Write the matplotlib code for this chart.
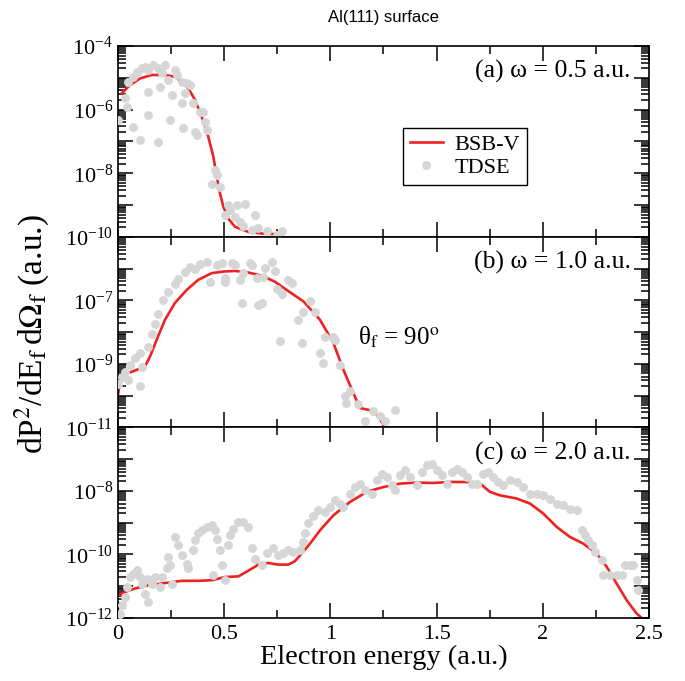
import numpy as np
import matplotlib
matplotlib.use("Agg")
import matplotlib.pyplot as plt
from matplotlib.ticker import LogLocator, FuncFormatter, MultipleLocator, FormatStrFormatter

# ============================================================
# DATOS: espectros de electrones emitidos, superficie Al(111)
# (energia en a.u., probabilidad guardada como exponente log10)
# ============================================================

# ---- (a) omega = 0.5 a.u. ----
e_bsb_a = [0.017, 0.056, 0.104, 0.159, 0.221, 0.268, 0.300, 0.331, 0.363, 0.394,
           0.425, 0.449, 0.465, 0.480, 0.496, 0.519, 0.551, 0.614, 0.676, 0.739]
log_bsb_a = [-5.49, -5.23, -5.02, -4.91, -4.91, -4.97, -5.12, -5.33, -5.70, -6.22,
             -6.85, -7.48, -8.11, -8.63, -9.05, -9.42, -9.68, -9.84, -9.89, -9.91]

e_tdse_a = [0.002, 0.033, 0.041, 0.049, 0.072, 0.072, 0.088, 0.104, 0.111, 0.127,
            0.143, 0.143, 0.143, 0.166, 0.190, 0.190, 0.198, 0.206, 0.221, 0.237,
            0.245, 0.253, 0.268, 0.276, 0.300, 0.300, 0.308, 0.315, 0.323, 0.339,
            0.355, 0.363, 0.370, 0.386, 0.402, 0.410, 0.417, 0.441, 0.457, 0.465,
            0.480, 0.504, 0.519, 0.527, 0.551, 0.559, 0.574, 0.590, 0.598, 0.629,
            0.645, 0.661, 0.700, 0.747, 0.771]
log_tdse_a = [-6.33, -5.65, -5.91, -5.12, -4.96, -6.54, -4.81, -6.96, -4.70, -4.65,
              -4.75, -5.44, -6.17, -4.60, -4.70, -7.01, -5.28, -4.86, -4.60, -5.07,
              -6.33, -5.54, -4.75, -4.91, -5.12, -5.80, -6.59, -5.49, -5.17, -5.23,
              -5.80, -6.69, -6.80, -6.06, -6.06, -6.38, -6.64, -8.32, -7.90, -8.05,
              -8.42, -9.31, -9.00, -9.16, -9.37, -9.00, -9.53, -9.66, -8.95, -9.77,
              -9.31, -9.71, -9.82, -9.94, -9.82]

# ---- (b) omega = 1.0 a.u. ----
e_bsb_b = [0.000, 0.009, 0.025, 0.072, 0.127, 0.151, 0.182, 0.221, 0.268, 0.323,
           0.378, 0.441, 0.496, 0.551, 0.614, 0.676, 0.739, 0.794, 0.873, 0.951,
           1.014, 1.061, 1.108, 1.139, 1.186, 1.218, 1.249, 1.257]
log_bsb_b = [-9.97, -9.60, -9.34, -9.23, -9.08, -8.76, -8.24, -7.61, -7.08, -6.67,
             -6.35, -6.14, -6.09, -6.07, -6.12, -6.22, -6.41, -6.67, -7.03, -7.61,
             -8.34, -9.18, -9.92, -10.39, -10.46, -10.60, -10.91, -11.00]

e_tdse_b = [0.002, 0.017, 0.033, 0.049, 0.057, 0.080, 0.104, 0.104, 0.111, 0.143,
            0.159, 0.174, 0.190, 0.214, 0.237, 0.268, 0.284, 0.315, 0.339, 0.363,
            0.386, 0.418, 0.433, 0.465, 0.488, 0.504, 0.504, 0.535, 0.551, 0.574,
            0.582, 0.590, 0.621, 0.629, 0.653, 0.661, 0.676, 0.684, 0.694, 0.724,
            0.739, 0.747, 0.763, 0.771, 0.802, 0.818, 0.849, 0.865, 0.873, 0.904,
            0.927, 0.951, 0.967, 0.974, 1.014, 1.022, 1.045, 1.069, 1.075, 1.092,
            1.130, 1.163, 1.201, 1.234, 1.257, 1.304]
log_tdse_b = [-9.62, -9.41, -9.26, -9.51, -9.05, -8.83, -8.67, -9.71, -9.10, -8.47,
              -8.05, -7.74, -7.42, -7.00, -6.74, -6.48, -6.32, -6.11, -5.95, -6.01,
              -5.86, -5.80, -6.43, -5.88, -5.83, -6.30, -6.43, -5.83, -5.88, -6.35,
              -7.08, -6.14, -5.83, -5.89, -6.30, -7.14, -7.08, -6.25, -5.98, -5.80,
              -6.07, -6.64, -8.29, -6.79, -6.35, -6.46, -7.61, -8.34, -7.35, -7.03,
              -7.35, -8.66, -8.97, -8.14, -8.14, -8.24, -9.03, -10.02, -10.23, -9.86,
              -10.28, -10.81, -10.49, -10.65, -10.81, -10.44]

# ---- (c) omega = 2.0 a.u. ----
e_bsb_c = [0.002, 0.033, 0.080, 0.143, 0.221, 0.300, 0.378, 0.441, 0.504, 0.567,
           0.614, 0.661, 0.708, 0.755, 0.802, 0.833, 0.857, 0.904, 0.951, 1.014,
           1.092, 1.171, 1.249, 1.328, 1.406, 1.485, 1.563, 1.642, 1.705, 1.751,
           1.798, 1.877, 1.940, 2.002, 2.065, 2.128, 2.191, 2.254, 2.301, 2.348,
           2.395, 2.442, 2.466]
log_bsb_c = [-11.28, -11.18, -11.07, -10.97, -10.90, -10.83, -10.83, -10.81, -10.71, -10.69,
             -10.51, -10.32, -10.27, -10.32, -10.32, -10.21, -10.03, -9.66, -9.24, -8.77,
             -8.35, -8.03, -7.88, -7.77, -7.74, -7.75, -7.72, -7.72, -7.77, -8.03,
             -8.14, -8.24, -8.40, -8.71, -9.13, -9.45, -9.66, -9.97, -10.39, -10.92,
             -11.44, -11.86, -12.00]

e_tdse_c = [0.009, 0.017, 0.033, 0.041, 0.057, 0.072, 0.088, 0.104, 0.111, 0.127,
            0.135, 0.143, 0.159, 0.174, 0.198, 0.206, 0.229, 0.237, 0.245, 0.253,
            0.268, 0.284, 0.300, 0.323, 0.331, 0.355, 0.363, 0.378, 0.394, 0.418,
            0.441, 0.449, 0.457, 0.465, 0.480, 0.488, 0.504, 0.519, 0.527, 0.543,
            0.567, 0.590, 0.614, 0.629, 0.645, 0.676, 0.700, 0.731, 0.755, 0.778,
            0.802, 0.826, 0.857, 0.873, 0.880, 0.896, 0.920, 0.943, 0.975, 0.998,
            1.022, 1.045, 1.061, 1.092, 1.116, 1.140, 1.163, 1.194, 1.218, 1.242,
            1.265, 1.288, 1.304, 1.328, 1.351, 1.375, 1.406, 1.430, 1.453, 1.477,
            1.500, 1.524, 1.548, 1.571, 1.595, 1.618, 1.642, 1.665, 1.689, 1.720,
            1.744, 1.767, 1.791, 1.814, 1.845, 1.877, 1.908, 1.940, 1.971, 2.002,
            2.034, 2.065, 2.097, 2.128, 2.160, 2.183, 2.200, 2.214, 2.230, 2.246,
            2.277, 2.285, 2.316, 2.348, 2.371, 2.387, 2.410, 2.426, 2.442, 2.450]
log_tdse_c = [-11.86, -11.60, -11.34, -11.02, -10.71, -10.61, -10.50, -10.71, -10.92, -11.23,
              -10.76, -11.49, -10.92, -10.71, -11.02, -10.71, -10.44, -10.08, -10.34, -10.92,
              -9.45, -9.71, -10.03, -10.29, -10.44, -9.87, -9.55, -9.34, -9.24, -9.13,
              -9.08, -10.66, -9.24, -9.50, -9.87, -10.34, -10.81, -9.71, -9.40, -9.19,
              -8.98, -8.98, -9.13, -9.81, -10.13, -10.34, -9.97, -9.81, -10.03, -9.97,
              -9.87, -9.92, -9.87, -9.60, -9.34, -9.02, -8.80, -8.61, -8.66, -8.50,
              -8.29, -8.40, -8.50, -8.09, -7.88, -7.77, -7.98, -8.09, -7.67, -7.46,
              -7.56, -7.82, -7.98, -7.51, -7.35, -7.56, -7.82, -7.40, -7.20, -7.14,
              -7.35, -7.51, -7.77, -7.40, -7.30, -7.40, -7.56, -7.77, -7.77, -7.46,
              -7.40, -7.56, -7.72, -7.82, -7.67, -7.72, -7.88, -8.09, -8.09, -8.14,
              -8.24, -8.40, -8.45, -8.56, -8.61, -9.24, -9.40, -9.55, -9.71, -9.92,
              -10.18, -10.65, -10.65, -10.65, -10.65, -10.34, -10.34, -10.34, -10.81, -11.12]

# Textos de cada panel
etiquetas = ["(a) \u03c9 = 0.5 a.u.", "(b) \u03c9 = 1.0 a.u.", "(c) \u03c9 = 2.0 a.u."]
# Rango del eje y (exponentes) y decadas con etiqueta
rangos_y = [(-10, -4), (-11, -5), (-12, -6)]
decadas_etiqueta = [[-4, -6, -8, -10], [-7, -9, -11], [-8, -10, -12]]

datos = [
    (e_bsb_a, log_bsb_a, e_tdse_a, log_tdse_a),
    (e_bsb_b, log_bsb_b, e_tdse_b, log_tdse_b),
    (e_bsb_c, log_bsb_c, e_tdse_c, log_tdse_c),
]

# ============================================================
# ESTILO GENERAL
# ============================================================
plt.rcParams["font.family"] = ["Liberation Serif", "DejaVu Serif"]
plt.rcParams["mathtext.fontset"] = "stix"

rojo = "#ee2222"
gris = "#d6d6d6"

fig = plt.figure(figsize=(6.85, 6.81), dpi=100)

# Posicion de los tres paneles apilados (sin separacion)
izq, ancho = 0.1723, 0.7751
cortes = [0.9325, 0.652, 0.3725, 0.0925]

ejes = []
for i in range(3):
    abajo = cortes[i + 1]
    alto = cortes[i] - cortes[i + 1]
    ax = fig.add_axes([izq, abajo, ancho, alto])
    ejes.append(ax)

    e_l, log_l, e_p, log_p = datos[i]
    # Linea BSB-V debajo, puntos TDSE encima
    ax.plot(e_l, 10.0 ** np.array(log_l), color=rojo, lw=1.9, zorder=2, label="BSB-V")
    ax.plot(e_p, 10.0 ** np.array(log_p), "o", color=gris, ms=6.4, mec="none",
            zorder=3, label="TDSE")

    ax.set_yscale("log")
    ax.set_xlim(0, 2.5)
    lo, hi = rangos_y[i]
    ax.set_ylim(10.0 ** lo, 10.0 ** hi)

    # Marcas en cada decada, etiqueta solo en algunas
    ax.yaxis.set_major_locator(LogLocator(base=10, numticks=20))
    ax.yaxis.set_minor_locator(LogLocator(base=10, subs=np.arange(2, 10), numticks=20))
    etiq = decadas_etiqueta[i]
    ax.yaxis.set_major_formatter(FuncFormatter(
        lambda v, pos, etiq=etiq: r"$\mathdefault{10^{%d}}$" % round(np.log10(v))
        if round(np.log10(v)) in etiq else ""))

    ax.xaxis.set_major_locator(MultipleLocator(0.5))
    ax.xaxis.set_minor_locator(MultipleLocator(0.25))
    ax.xaxis.set_major_formatter(FormatStrFormatter("%g"))

    ax.tick_params(which="both", direction="in", top=True, right=True, width=1.1)
    ax.tick_params(which="major", length=11, labelsize=16)
    ax.tick_params(which="minor", length=5.5)
    ax.tick_params(axis="x", which="major", pad=5)
    if i < 2:
        ax.tick_params(axis="x", labelbottom=False)

    for s in ax.spines.values():
        s.set_linewidth(1.2)

    ax.text(0.966, 0.864, etiquetas[i], transform=ax.transAxes,
            ha="right", va="center", fontsize=18.5)

# Leyenda en el panel (a)
ejes[0].legend(loc="upper left", bbox_to_anchor=(0.537, 0.571), fontsize=16,
               frameon=True, fancybox=False, edgecolor="black", framealpha=1,
               handlelength=1.5, borderpad=0.3, labelspacing=0.1,
               handletextpad=0.5, borderaxespad=0)

# Angulo de emision en el panel (b)
ejes[1].text(1.32, 10.0 ** -8.15, "\u03b8$_\\mathrm{f}$ = 90$^\\mathrm{o}$",
             ha="center", va="center", fontsize=18)

# Titulos de ejes
ejes[2].set_xlabel("Electron energy (a.u.)", fontsize=20.5, labelpad=1)
fig.text(0.048, 0.51, r"dP$^2$/dE$_\mathrm{f}\,$d$\Omega_\mathrm{f}$ (a.u.)",
         rotation=90, ha="center", va="center", fontsize=24)
fig.text(0.56, 0.975, "Al(111) surface", ha="center", va="center",
         fontsize=12, family="Liberation Sans")

fig.savefig("out.png", dpi=100)
